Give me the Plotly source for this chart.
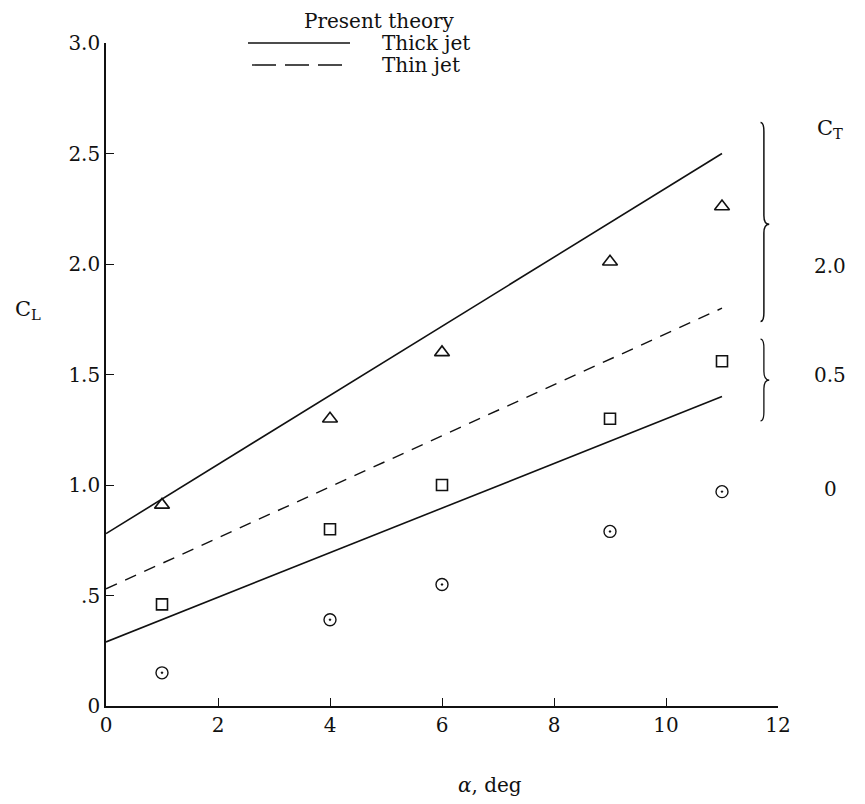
import plotly.graph_objects as go

# ---- data ----
alpha_pts = [1, 4, 6, 9, 11]
cl_ct20 = [0.91, 1.30, 1.60, 2.01, 2.26]   # triangles, C_T = 2.0
cl_ct05 = [0.46, 0.80, 1.00, 1.30, 1.56]   # squares,   C_T = 0.5
cl_ct00 = [0.15, 0.39, 0.55, 0.79, 0.97]   # circles,   C_T = 0

theory_alpha = [0, 11]
thick_ct20 = [0.78, 2.50]
thin_ct05 = [0.53, 1.80]
thick_ct05 = [0.29, 1.40]

x_ticks = [0, 2, 4, 6, 8, 10, 12]
y_ticks = [0, 0.5, 1.0, 1.5, 2.0, 2.5, 3.0]
y_ticklabels = ["0", ".5", "1.0", "1.5", "2.0", "2.5", "3.0"]

ct_labels = ["2.0", "0.5", "0"]
ct_label_y = [1.99, 1.50, 0.98]

FONT = "DejaVu Serif"
black = "#111"

# plot area in page pixels (page has 8px body margin)
L, R, T, B = 106, 778, 43, 706
def px(xp):
    return (xp - L) / (R - L)
def py(yp):
    return (B - yp) / (B - T)

fig = go.Figure()

fig.add_trace(go.Scatter(x=theory_alpha, y=thick_ct20, mode="lines",
                         line=dict(color=black, width=1.6), showlegend=False))
fig.add_trace(go.Scatter(x=theory_alpha, y=thin_ct05, mode="lines",
                         line=dict(color=black, width=1.4, dash="12px,9px"), showlegend=False))
fig.add_trace(go.Scatter(x=theory_alpha, y=thick_ct05, mode="lines",
                         line=dict(color=black, width=1.6), showlegend=False))

fig.add_trace(go.Scatter(x=alpha_pts, y=cl_ct20, mode="markers",
                         marker=dict(symbol="triangle-up-open", size=13, color=black,
                                     line=dict(width=1.6)), showlegend=False))
fig.add_trace(go.Scatter(x=alpha_pts, y=cl_ct05, mode="markers",
                         marker=dict(symbol="square-open", size=11, color=black,
                                     line=dict(width=1.6)), showlegend=False))
fig.add_trace(go.Scatter(x=alpha_pts, y=cl_ct00, mode="markers",
                         marker=dict(symbol="circle-open-dot", size=12, color=black,
                                     line=dict(width=1.4)), showlegend=False))

shapes = []
# legend samples
shapes.append(dict(type="line", xref="paper", yref="paper", x0=px(248), x1=px(350),
                   y0=py(43), y1=py(43), line=dict(color=black, width=1.4)))
shapes.append(dict(type="line", xref="paper", yref="paper", x0=px(252), x1=px(343),
                   y0=py(65), y1=py(65), line=dict(color=black, width=1.4, dash="24px,9px")))

# braces (x in paper, y in data)
def brace(y_top, y_bot, y_tip, x=0.979):
    return ("M {a},{t} Q {x},{t} {x},{t2} L {x},{m1} Q {x},{tip} {b},{tip} "
            "Q {x},{tip} {x},{m2} L {x},{b2} Q {x},{bt} {a},{bt}").format(
        a=x - 0.005, x=x, b=x + 0.008, t=y_top, t2=y_top - 0.04, m1=y_tip + 0.04,
        tip=y_tip, m2=y_tip - 0.04, b2=y_bot + 0.04, bt=y_bot)

shapes.append(dict(type="path", xref="paper", yref="y", path=brace(2.64, 1.74, 2.18),
                   line=dict(color=black, width=1.5)))
shapes.append(dict(type="path", xref="paper", yref="y", path=brace(1.66, 1.29, 1.475),
                   line=dict(color=black, width=1.3)))

annotations = [
    dict(text="Present theory", xref="paper", yref="paper", x=px(302), y=py(21),
         xanchor="left", yanchor="middle", showarrow=False, font=dict(size=20)),
    dict(text="Thick jet", xref="paper", yref="paper", x=px(380), y=py(43),
         xanchor="left", yanchor="middle", showarrow=False, font=dict(size=20)),
    dict(text="Thin jet", xref="paper", yref="paper", x=px(380), y=py(65),
         xanchor="left", yanchor="middle", showarrow=False, font=dict(size=20)),
    dict(text="C<sub>L</sub>", xref="paper", yref="paper", x=px(28), y=py(310),
         xanchor="center", yanchor="middle", showarrow=False, font=dict(size=21)),
    dict(text="<i>α</i>, deg", xref="paper", yref="paper", x=px(490), y=py(785),
         xanchor="center", yanchor="middle", showarrow=False, font=dict(size=20)),
    dict(text="C<sub>T</sub>", xref="paper", yref="y", x=px(830), y=2.61,
         xanchor="center", yanchor="middle", showarrow=False, font=dict(size=21)),
]
for lab, yv in zip(ct_labels, ct_label_y):
    annotations.append(dict(text=lab, xref="paper", yref="y", x=px(830), y=yv,
                            xanchor="center", yanchor="middle", showarrow=False,
                            font=dict(size=20)))

fig.update_layout(
    width=865, height=804,
    margin=dict(l=L - 8, r=865 + 8 - R, t=T - 8, b=804 + 8 - B),
    paper_bgcolor="white", plot_bgcolor="white",
    font=dict(family=FONT, size=20, color=black),
    shapes=shapes, annotations=annotations,
    xaxis=dict(range=[0, 12], tickvals=x_ticks, ticks="inside", ticklen=8,
               tickwidth=1.3, tickcolor=black, showline=True, linecolor=black,
               linewidth=1.6, showgrid=False, zeroline=False, mirror=False,
               tickfont=dict(size=20)),
    yaxis=dict(range=[0, 3.0], tickvals=y_ticks, ticktext=y_ticklabels, ticks="inside",
               ticklen=8, tickwidth=1.3, tickcolor=black, showline=True,
               linecolor=black, linewidth=1.6, showgrid=False, zeroline=False,
               tickfont=dict(size=20)),
)

fig.write_html("out.html")
